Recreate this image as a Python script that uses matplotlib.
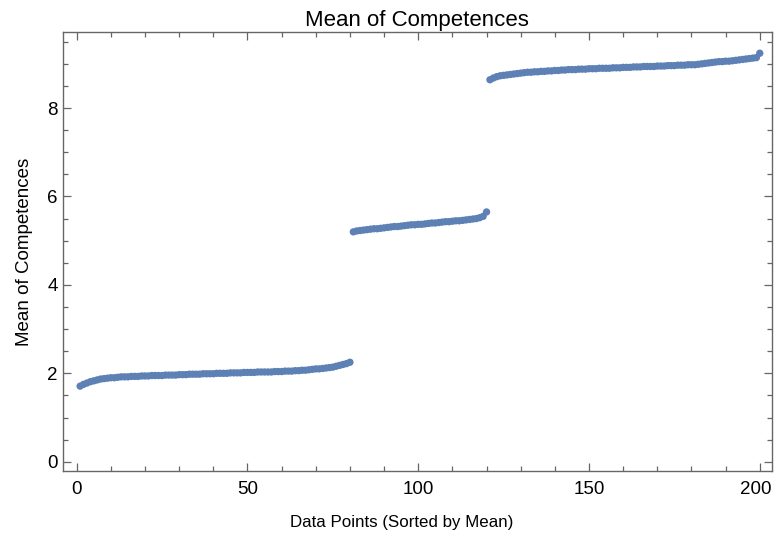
import numpy as np
import matplotlib
matplotlib.use("Agg")
import matplotlib.pyplot as plt
from matplotlib.ticker import MultipleLocator
from matplotlib.transforms import ScaledTranslation

# medias ordenadas, tres grupos
grupo_bajo = [
    1.71, 1.75, 1.78, 1.81, 1.83, 1.85, 1.87, 1.88, 1.89, 1.90,
    1.90, 1.91, 1.92, 1.92, 1.92, 1.93, 1.93, 1.93, 1.94, 1.94,
    1.94, 1.95, 1.95, 1.95, 1.95, 1.96, 1.96, 1.96, 1.96, 1.97,
    1.97, 1.97, 1.98, 1.98, 1.98, 1.98, 1.99, 1.99, 1.99, 1.99,
    2.00, 2.00, 2.00, 2.00, 2.01, 2.01, 2.01, 2.01, 2.02, 2.02,
    2.02, 2.02, 2.03, 2.03, 2.03, 2.03, 2.03, 2.04, 2.04, 2.04,
    2.05, 2.05, 2.05, 2.06, 2.06, 2.07, 2.07, 2.08, 2.09, 2.10,
    2.10, 2.11, 2.12, 2.13, 2.14, 2.16, 2.18, 2.20, 2.22, 2.25,
]
grupo_medio = [
    5.20, 5.22, 5.23, 5.24, 5.25, 5.26, 5.27, 5.27, 5.28, 5.29,
    5.30, 5.31, 5.32, 5.32, 5.33, 5.34, 5.35, 5.36, 5.36, 5.37,
    5.37, 5.38, 5.39, 5.40, 5.40, 5.41, 5.42, 5.43, 5.43, 5.44,
    5.45, 5.45, 5.46, 5.47, 5.48, 5.49, 5.50, 5.52, 5.55, 5.65,
]
grupo_alto = [
    8.64, 8.68, 8.71, 8.73, 8.74, 8.75, 8.76, 8.77, 8.78, 8.79,
    8.80, 8.81, 8.81, 8.82, 8.82, 8.83, 8.83, 8.84, 8.84, 8.85,
    8.85, 8.86, 8.86, 8.87, 8.87, 8.87, 8.88, 8.88, 8.88, 8.89,
    8.89, 8.89, 8.90, 8.90, 8.90, 8.90, 8.91, 8.91, 8.91, 8.92,
    8.92, 8.92, 8.93, 8.93, 8.93, 8.94, 8.94, 8.94, 8.94, 8.95,
    8.95, 8.95, 8.96, 8.96, 8.96, 8.97, 8.97, 8.97, 8.98, 8.98,
    8.98, 8.99, 9.00, 9.01, 9.02, 9.03, 9.04, 9.05, 9.05, 9.06,
    9.06, 9.07, 9.08, 9.09, 9.10, 9.11, 9.12, 9.13, 9.14, 9.24,
]

medias = np.array(grupo_bajo + grupo_medio + grupo_alto)
indices = np.arange(1, len(medias) + 1)

plt.rcParams["font.family"] = ["Liberation Sans", "DejaVu Sans"]

fig = plt.figure(figsize=(7.74, 5.38), dpi=100)
ax = fig.add_axes([0.081, 0.1245, 0.9165, 0.816])

ax.scatter(indices, medias, s=28, color="#5E81B5", edgecolors="none", zorder=3)

ax.set_xlim(-4.1, 203.6)
ax.set_ylim(-0.21, 9.72)

ax.xaxis.set_major_locator(MultipleLocator(50))
ax.xaxis.set_minor_locator(MultipleLocator(10))
ax.yaxis.set_major_locator(MultipleLocator(2))
ax.yaxis.set_minor_locator(MultipleLocator(0.5))

ax.tick_params(which="both", direction="in", top=True, right=True,
               color="#666666", width=0.9, labelsize=13.5, labelcolor="black")
ax.tick_params(which="major", length=6)
ax.tick_params(which="minor", length=3.6)
ax.tick_params(axis="x", pad=7)
for sp in ax.spines.values():
    sp.set_color("#666666")
    sp.set_linewidth(1.0)

ax.set_title("Mean of Competences", fontsize=16, pad=4)
ax.set_xlabel("Data Points (Sorted by Mean)", fontsize=12.2)
ax.xaxis.set_label_coords(0.478, -0.1)
ax.set_ylabel("Mean of Competences", fontsize=13.5, labelpad=10)

# el "200" queda pegado al borde, lo corro un poco a la izquierda
fig.canvas.draw()
for lbl in ax.get_xticklabels():
    if lbl.get_text() == "200":
        lbl.set_transform(lbl.get_transform() + ScaledTranslation(-3 / 72, 0, fig.dpi_scale_trans))

fig.savefig("out.png", dpi=100)
